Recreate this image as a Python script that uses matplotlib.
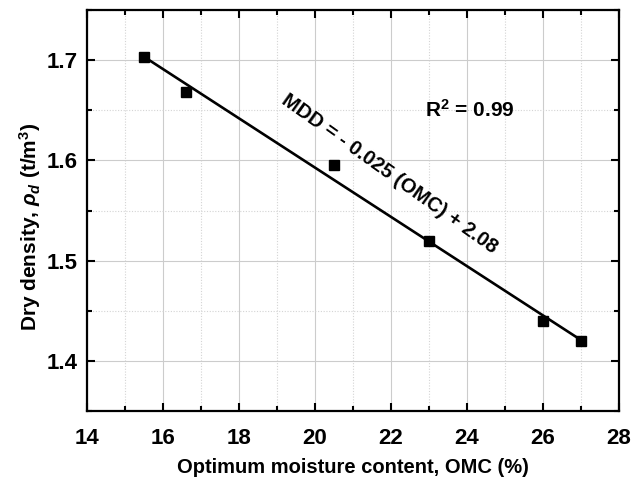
import numpy as np
import matplotlib
matplotlib.use("Agg")
import matplotlib.pyplot as plt
from matplotlib.ticker import MultipleLocator

plt.rcParams['font.family'] = ['Liberation Sans', 'DejaVu Sans']
plt.rcParams['mathtext.fontset'] = 'custom'
plt.rcParams['mathtext.rm'] = 'Liberation Sans:bold'
plt.rcParams['mathtext.it'] = 'Liberation Sans:italic:bold'
plt.rcParams['mathtext.bf'] = 'Liberation Sans:bold'

# Measured compaction results
omc = [15.5, 16.6, 20.5, 23.0, 26.0, 27.0]          # optimum moisture content (%)
mdd = [1.703, 1.668, 1.595, 1.520, 1.440, 1.420]    # maximum dry density (t/m3)

x_ticks = [14, 16, 18, 20, 22, 24, 26, 28]
y_ticks = [1.4, 1.5, 1.6, 1.7]

# Linear regression of MDD on OMC
slope, intercept = np.polyfit(omc, mdd, 1)
fit_x = np.array([min(omc), max(omc)])
fit_y = slope * fit_x + intercept

fig = plt.figure(figsize=(6.32, 4.83), dpi=100)
ax = fig.add_axes([0.138, 0.149, 0.841, 0.830])

ax.plot(fit_x, fit_y, color='black', lw=1.9, zorder=3)
ax.plot(omc, mdd, 's', color='black', ms=6.5, zorder=4)

ax.set_xlim(14, 28)
ax.set_ylim(1.35, 1.75)
ax.set_xticks(x_ticks)
ax.set_yticks(y_ticks)
ax.xaxis.set_minor_locator(MultipleLocator(1))
ax.yaxis.set_minor_locator(MultipleLocator(0.05))

ax.grid(which='major', color='#cccccc', lw=0.8)
ax.grid(which='minor', color='#d4d4d4', lw=0.8, ls=(0, (1, 1.5)))
ax.set_axisbelow(True)

ax.tick_params(which='both', direction='in', top=True, right=True,
               width=1.5, labelsize=16)
ax.tick_params(which='major', length=6)
ax.tick_params(which='minor', length=3.5)
for lab in ax.get_xticklabels() + ax.get_yticklabels():
    lab.set_fontweight('bold')
ax.tick_params(axis='x', pad=12)
ax.tick_params(axis='y', pad=7)
for sp in ax.spines.values():
    sp.set_linewidth(1.6)

ax.set_xlabel('Optimum moisture content, OMC (%)', fontsize=14.5,
              fontweight='bold', labelpad=7)
ax.set_ylabel(r'Dry density, $\rho_d$ (t/m$^3$)', fontsize=15,
              fontweight='bold')
ax.yaxis.set_label_coords(-0.083, 0.46)

ax.text(21.95, 1.587, 'MDD = - 0.025 (OMC) + 2.08', rotation=-35.5,
        rotation_mode='anchor', ha='center', va='center',
        fontsize=14.5, fontweight='bold')
ax.text(22.9, 1.651, r'R$^2$ = 0.99', ha='left', va='center',
        fontsize=15, fontweight='bold')

fig.savefig('out.png', dpi=100)
